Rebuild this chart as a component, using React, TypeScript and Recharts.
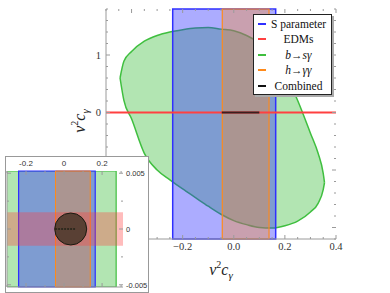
import React from "react";
import {
  Area,
  ComposedChart,
  Legend,
  Line,
  ReferenceArea,
  ReferenceDot,
  ReferenceLine,
  XAxis,
  YAxis,
} from "recharts";

// b -> s gamma region: x, lower edge, upper edge
const bsgX = [-0.445, -0.43, -0.4, -0.35, -0.3, -0.25, -0.2, -0.15, -0.1, -0.05, 0, 0.05, 0.1, 0.15, 0.2, 0.25, 0.3, 0.33, 0.35, 0.355];
const bsgLow = [0.6, 0.21, -0.11, -0.71, -1.0, -1.17, -1.33, -1.48, -1.63, -1.77, -1.88, -1.95, -2.0, -2.01, -1.97, -1.89, -1.73, -1.58, -1.34, -1.22];
const bsgHigh = [0.6, 0.89, 1.06, 1.24, 1.34, 1.4, 1.44, 1.47, 1.48, 1.45, 1.42, 1.34, 1.21, 0.99, 0.68, 0.21, -0.36, -0.71, -1.06, -1.22];

const sParam = [-0.239, 0.164];
const hgg = [-0.045, 0.138];
const edm = [-0.0015, 0.0015];
const bsgAtZero = [-0.41, 0.274];
const combined = [-0.047, 0.1];
const combinedZoom = [-0.047, 0.058];
const combinedCenter = [0.035, 0];

// -0.4, -1 and -2 sit under the inset, so only these carry labels
const xMajor = [-0.4, -0.2, 0, 0.2, 0.4];
const xLabelled = [-0.2, 0, 0.2, 0.4];
const xMinor = [-0.5, -0.45, -0.35, -0.3, -0.25, -0.15, -0.1, -0.05, 0.05, 0.1, 0.15, 0.25, 0.3, 0.35];
const yMajor = [-2, -1, 0, 1];
const yLabelled = [0, 1];
const yMinor = [-2.2, -1.8, -1.6, -1.4, -1.2, -0.8, -0.6, -0.4, -0.2, 0.2, 0.4, 0.6, 0.8, 1.2, 1.4, 1.6, 1.8];

const insetXMajor = [-0.2, 0, 0.2];
const insetXMinor = [-0.3, -0.1, 0.1, 0.3];
const insetYMajor = [-0.005, 0, 0.005];
const insetYMinor = [-0.0025, 0.0025];

const legendNames = ["S parameter", "EDMs", "b→sγ", "h→γγ", "Combined"];
const legendItalic = [false, false, true, true, false];

const BLUE = "#2f2fff";
const RED = "#ff4040";
const GREEN = "#3fbf3f";
const ORANGE = "#ff8a1a";
const legendColors = [BLUE, RED, GREEN, ORANGE, "#111"];

const data = bsgX.map((x, i) => ({ x, range: [bsgLow[i], bsgHigh[i]] }));
const zoomData = combinedZoom.map((x) => ({ x, y: combinedCenter[1] }));

const FRAME = "#9a9a9a";
const SERIF = "Times New Roman, Liberation Serif, serif";
const SANS = "Arial, Liberation Sans, sans-serif";

const isIn = (arr: number[], v: number) => arr.some((m) => Math.abs(m - v) < 1e-9);

const fmtMain = (v: number) => {
  const s = Math.abs(v).toFixed(1);
  return v < -1e-9 ? "−" + s : s;
};
const fmtInt = (v: number) => (v < 0 ? "−" + Math.abs(v) : String(v));
const fmtInset = (v: number) => (Math.abs(v) < 1e-12 ? "0" : String(v));

// inward ticks on both sides of the frame (Mathematica style);
// span = plot size, labels go on the near side or, with far=true, the opposite one
function tick(
  side: "bottom" | "left",
  major: number[],
  labelled: number[],
  fmt: (v: number) => string,
  span: number,
  far: boolean,
  font: string,
  size: number
) {
  return (props: any) => {
    const { x, y, payload } = props;
    const v = payload.value;
    const len = isIn(major, v) ? 4 : 2;
    const text = isIn(labelled, v) ? fmt(v) : null;
    if (side === "bottom") {
      const top = y - span;
      return (
        <g fontFamily={font} fontSize={size} fill="#333">
          <line x1={x} x2={x} y1={y} y2={y - len} stroke={FRAME} />
          <line x1={x} x2={x} y1={top} y2={top + len} stroke={FRAME} />
          {text && !far && <text x={x} y={y + 11} textAnchor="middle">{text}</text>}
          {text && far && <text x={x} y={top - 5} textAnchor="middle">{text}</text>}
        </g>
      );
    }
    const right = x + span;
    return (
      <g fontFamily={font} fontSize={size} fill="#333">
        <line x1={x} x2={x + len} y1={y} y2={y} stroke={FRAME} />
        <line x1={right} x2={right - len} y1={y} y2={y} stroke={FRAME} />
        {text && !far && <text x={x - 5} y={y + 3.5} textAnchor="end">{text}</text>}
        {text && far && <text x={right + 3} y={y + 3} textAnchor="start">{text}</text>}
      </g>
    );
  };
}

function Title({ x, y, rotate }: { x: number; y: number; rotate?: boolean }) {
  return (
    <text
      x={x}
      y={y}
      textAnchor="middle"
      fontFamily={SERIF}
      fontStyle="italic"
      fontSize={16}
      fill="#222"
      transform={rotate ? `rotate(-90 ${x} ${y})` : undefined}
    >
      v<tspan dy={-7} fontSize={10} fontStyle="normal">2</tspan>
      <tspan dy={7}>c</tspan>
      <tspan dy={4} fontSize={11}>γ</tspan>
    </text>
  );
}

function LegendBox() {
  return (
    <div
      style={{
        width: 79,
        height: 81,
        boxSizing: "border-box",
        border: "1px solid #222",
        background: "#fff",
        boxShadow: "2px 2px 0 #aaa",
        padding: "1px 0",
        fontFamily: SERIF,
        fontSize: 11.5,
        color: "#111",
      }}
    >
      {legendNames.map((name, i) => (
        <div key={name} style={{ display: "flex", alignItems: "center", height: 15.5 }}>
          <span style={{ width: 8, height: 2, background: legendColors[i], marginLeft: 4 }} />
          <span style={{ flex: 1, textAlign: "center", fontStyle: legendItalic[i] ? "italic" : "normal" }}>{name}</span>
        </div>
      ))}
    </div>
  );
}

export default function App() {
  return (
    <div style={{ position: "absolute", left: 0, top: 0, width: 390, height: 293, background: "#fff" }}>
      <ComposedChart width={390} height={293} data={data} margin={{ top: 9, right: 54, bottom: 34, left: 86 }}>
        <XAxis
          dataKey="x"
          type="number"
          domain={[-0.5, 0.4]}
          allowDataOverflow
          ticks={[...xMajor, ...xMinor]}
          interval={0}
          height={20}
          tickSize={0}
          tickMargin={0}
          tickLine={false}
          axisLine={{ stroke: FRAME }}
          tick={tick("bottom", xMajor, xLabelled, fmtMain, 230, false, SERIF, 10.5)}
          label={(p: any) => <Title x={p.viewBox.x + p.viewBox.width / 2} y={p.viewBox.y + 36} />}
        />
        <YAxis
          type="number"
          domain={[-2.2, 1.8]}
          allowDataOverflow
          ticks={[...yMajor, ...yMinor]}
          interval={0}
          width={20}
          tickSize={0}
          tickMargin={0}
          tickLine={false}
          axisLine={{ stroke: FRAME }}
          tick={tick("left", yMajor, yLabelled, fmtInt, 230, false, SERIF, 10.5)}
        />
        <Area
          dataKey="range"
          type="monotone"
          fill={GREEN}
          fillOpacity={0.4}
          stroke={GREEN}
          strokeWidth={1.5}
          isAnimationActive={false}
          dot={false}
          activeDot={false}
        />
        <ReferenceArea x1={sParam[0]} x2={sParam[1]} fill={BLUE} fillOpacity={0.4} stroke={BLUE} strokeWidth={1.5} />
        <ReferenceArea x1={hgg[0]} x2={hgg[1]} fill={ORANGE} fillOpacity={0.35} stroke={ORANGE} strokeWidth={1.2} />
        <ReferenceLine y={0} stroke={RED} strokeWidth={2} />
        <ReferenceLine
          segment={[
            { x: combined[0], y: 0 },
            { x: combined[1], y: 0 },
          ]}
          stroke="#3a1f1f"
          strokeWidth={2}
        />
        <ReferenceArea fill="none" stroke={FRAME} strokeWidth={1} />
        <Legend
          layout="vertical"
          align="center"
          verticalAlign="middle"
          content={() => <LegendBox />}
          wrapperStyle={{ left: 253, top: 14, width: 79, height: 81 }}
        />
      </ComposedChart>

      <svg width={390} height={293} style={{ position: "absolute", left: 0, top: 0, pointerEvents: "none" }}>
        <Title x={85} y={121} rotate />
      </svg>

      <div
        style={{
          position: "absolute",
          left: 5,
          top: 156,
          width: 144,
          height: 137,
          boxSizing: "border-box",
          border: "1px solid #999",
          background: "#fff",
          overflow: "hidden",
        }}
      >
        <ComposedChart width={142} height={135} data={zoomData} margin={{ top: 14, right: 25, bottom: 4, left: 0 }}>
          <XAxis
            dataKey="x"
            type="number"
            domain={[-0.3, 0.31]}
            allowDataOverflow
            ticks={[...insetXMajor, ...insetXMinor]}
            interval={0}
            height={1}
            tickSize={0}
            tickMargin={0}
            tickLine={false}
            axisLine={{ stroke: FRAME }}
            tick={tick("bottom", insetXMajor, insetXMajor, fmtInset, 116, true, SANS, 8)}
          />
          <YAxis
            type="number"
            domain={[-0.0052, 0.0052]}
            allowDataOverflow
            ticks={[...insetYMajor, ...insetYMinor]}
            interval={0}
            width={1}
            tickSize={0}
            tickMargin={0}
            tickLine={false}
            axisLine={{ stroke: FRAME }}
            tick={tick("left", insetYMajor, insetYMajor, fmtInset, 116, true, SANS, 7.5)}
          />
          <ReferenceArea
            x1={bsgAtZero[0]}
            x2={bsgAtZero[1]}
            ifOverflow="hidden"
            fill={GREEN}
            fillOpacity={0.4}
            stroke={GREEN}
            strokeWidth={1.2}
          />
          <ReferenceArea x1={sParam[0]} x2={sParam[1]} fill={BLUE} fillOpacity={0.4} stroke={BLUE} strokeWidth={1.2} />
          <ReferenceArea x1={hgg[0]} x2={hgg[1]} fill={ORANGE} fillOpacity={0.35} stroke={ORANGE} strokeWidth={1} />
          <ReferenceArea y1={edm[0]} y2={edm[1]} fill={RED} fillOpacity={0.35} stroke="none" />
          <ReferenceDot
            x={combinedCenter[0]}
            y={combinedCenter[1]}
            r={16}
            fill="#2a2a1a"
            fillOpacity={0.7}
            stroke="#1a1a10"
            strokeWidth={1}
          />
          <Line
            dataKey="y"
            type="linear"
            stroke="#111"
            strokeWidth={1.5}
            strokeDasharray="2 1"
            dot={false}
            activeDot={false}
            isAnimationActive={false}
          />
          <ReferenceArea fill="none" stroke={FRAME} strokeWidth={1} />
        </ComposedChart>
      </div>
    </div>
  );
}
